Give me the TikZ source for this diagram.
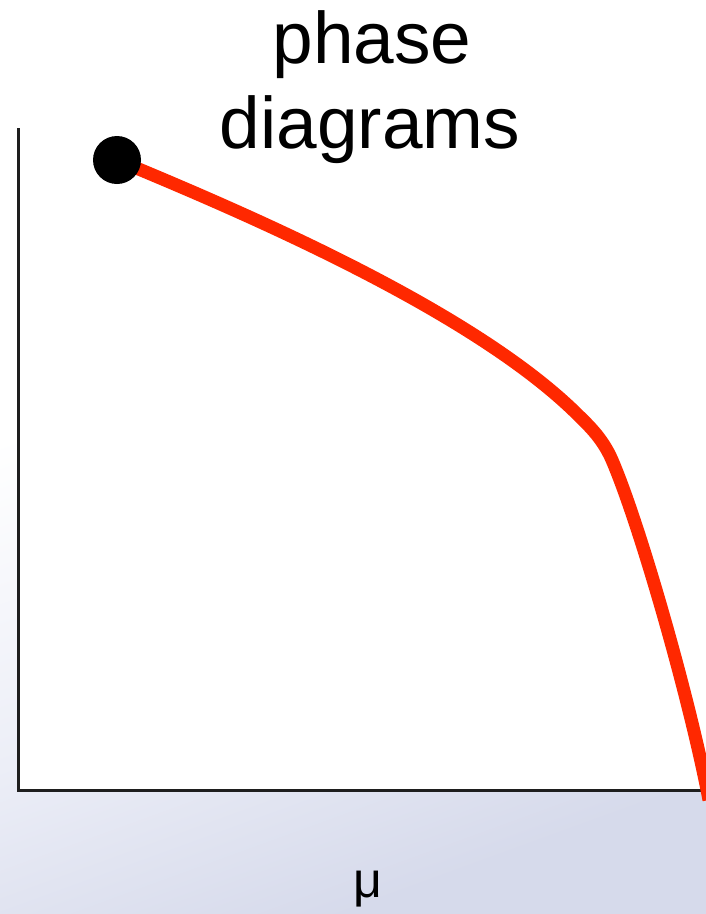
\documentclass[tikz,border=0pt]{standalone}
\usepackage{fontspec}
\setmainfont{Liberation Sans}
\definecolor{bgdark}{RGB}{214,218,235}
\definecolor{bgmid}{RGB}{236,238,247}
\definecolor{curvered}{RGB}{255,40,0}
\definecolor{axisgray}{RGB}{30,30,30}
\pgfdeclareverticalshading{bgshade}{100bp}{color(0bp)=(bgdark); color(25bp)=(bgdark); color(40bp)=(bgmid); color(58bp)=(white); color(100bp)=(white)}
\tikzset{
  axisline/.style={draw=axisgray, line width=3pt},
  phasecurve/.style={draw=curvered, line width=13pt, line join=round},
  title/.style={font=\fontsize{73}{85}\selectfont, anchor=base, inner sep=0pt},
  axislabel/.style={font=\fontsize{50}{60}\selectfont, anchor=base, inner sep=0pt},
  critdot/.style={circle, fill=black, minimum size=48pt, inner sep=0pt}
}
\begin{document}
\begin{tikzpicture}[x=1pt,y=-1pt]
\useasboundingbox (0,0) rectangle (706,914);
\shade[shading=bgshade, shading angle=20] (0,0) rectangle (706,914);
\fill[white] (19.5,0) rectangle (706,788.5);
\coordinate (ytop) at (18.5,128);
\coordinate (origin) at (18.5,790);
\coordinate (xend) at (706,790);
\draw[axisline] (ytop) -- (origin) -- (xend);
\coordinate (cstart) at (117,160);
\coordinate (bend1) at (575,412);
\coordinate (bend2) at (612,460);
\coordinate (cend) at (709,800);
\draw[phasecurve] (cstart) .. controls (250,215) and (470,310) .. (bend1)
  .. controls (587,424) and (602,437) .. (bend2)
  .. controls (640,525) and (690,700) .. (cend);
\node[critdot] (cp) at (cstart) {};
\node[title] (t1) at (372,63) {phase};
\node[title] (t2) at (370,148) {diagrams};
\node[axislabel] (mu) at (368,897) {μ};
\end{tikzpicture}
\end{document}
